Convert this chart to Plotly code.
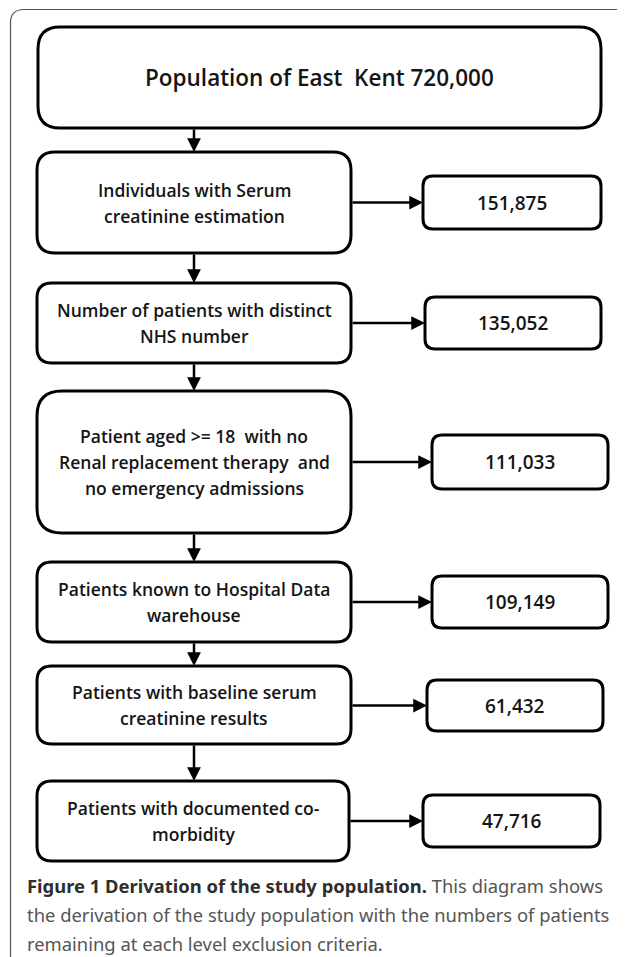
import plotly.graph_objects as go

# flowchart content
top_label = "Population of East\u00a0 Kent 720,000"
step_labels = [
    ["Individuals with Serum", "creatinine estimation"],
    ["Number of patients with distinct", "NHS number"],
    ["Patient aged &gt;= 18\u00a0 with no", "Renal replacement therapy\u00a0 and", "no emergency admissions"],
    ["Patients known to Hospital Data", "warehouse"],
    ["Patients with baseline serum", "creatinine results"],
    ["Patients with documented co-", "morbidity"],
]
step_counts = ["151,875", "135,052", "111,033", "109,149", "61,432", "47,716"]

caption_bold = "Figure 1 Derivation of the study population."
caption_lines = [
    " This diagram shows",
    "the derivation of the study population with the numbers of patients",
    "remaining at each level exclusion criteria.",
]

# layout (pixels of the 625x957 picture, y downwards)
W, H = 625, 957
PAD = 8  # page body margin around the plot div
top_box = (38, 601, 27, 128, 22)
left_boxes = [
    (37, 351, 152, 253, 18),
    (37, 351, 283, 363, 15),
    (37, 351, 391, 533, 25),
    (37, 351, 562, 642, 15),
    (37, 351, 666, 744, 15),
    (37, 349, 781, 861, 15),
]
right_boxes = [
    (423, 601, 176, 229, 10),
    (425, 601, 297, 349, 10),
    (432, 608, 435, 489, 10),
    (432, 608, 576, 628, 10),
    (427, 603, 680, 731, 10),
    (423, 600, 795, 847, 10),
]
arrow_x = 194
line_gap = 26
box_font = dict(family="Open Sans", size=17.5, color="#151515", weight=600)


def rounded(x0, x1, y0, y1, r):
    return (f"M {x0+r},{y0} L {x1-r},{y0} Q {x1},{y0} {x1},{y0+r} "
            f"L {x1},{y1-r} Q {x1},{y1} {x1-r},{y1} L {x0+r},{y1} "
            f"Q {x0},{y1} {x0},{y1-r} L {x0},{y0+r} Q {x0},{y0} {x0+r},{y0} Z")


shapes = []
annotations = []

# outer frame (continues past the right and bottom edges)
shapes.append(dict(type="path", xref="x", yref="y",
                   path="M 640,9.5 L 24,9.5 Q 10.5,9.5 10.5,23 L 10.5,980",
                   line=dict(color="#555555", width=1.2)))

for b in [top_box] + left_boxes + right_boxes:
    shapes.append(dict(type="path", xref="x", yref="y", path=rounded(*b),
                       line=dict(color="black", width=3), fillcolor="white"))

annotations.append(dict(x=(top_box[0] + top_box[1]) / 2, y=(top_box[2] + top_box[3]) / 2,
                        text=top_label, showarrow=False, xref="x", yref="y",
                        font=dict(family="Open Sans", size=22.5, color="#151515", weight=600)))

# vertical arrows between the main boxes
chain = [top_box] + left_boxes
for a, b in zip(chain[:-1], chain[1:]):
    annotations.append(dict(x=arrow_x, y=b[2], ax=arrow_x, ay=a[3], xref="x", yref="y",
                            axref="x", ayref="y", text="", showarrow=True,
                            arrowhead=2, arrowsize=1.1, arrowwidth=2.5, arrowcolor="black"))

for lb, rb, lines, cnt in zip(left_boxes, right_boxes, step_labels, step_counts):
    cx = (lb[0] + lb[1]) / 2
    cy = (lb[2] + lb[3]) / 2
    for i, ln in enumerate(lines):
        annotations.append(dict(x=cx, y=cy + (i - (len(lines) - 1) / 2) * line_gap,
                                text=ln, showarrow=False, xref="x", yref="y", font=box_font))
    ry = (rb[2] + rb[3]) / 2
    annotations.append(dict(x=(rb[0] + rb[1]) / 2, y=ry, text=cnt, showarrow=False,
                            xref="x", yref="y",
                            font=dict(family="Open Sans", size=19, color="#151515", weight=600)))
    annotations.append(dict(x=rb[0], y=ry, ax=lb[1], ay=ry, xref="x", yref="y",
                            axref="x", ayref="y", text="", showarrow=True,
                            arrowhead=2, arrowsize=1.1, arrowwidth=2.5, arrowcolor="black"))

# caption
cap_y = [885, 914, 943]
cap_font = dict(family="Noto Sans", size=18.4, color="#555555")
annotations.append(dict(x=25, y=cap_y[0], xanchor="left", showarrow=False, xref="x", yref="y",
                        text=f"<b><span style='color:#2e2e2e'>{caption_bold}</span></b>{caption_lines[0]}",
                        font=cap_font))
for yy, ln in zip(cap_y[1:], caption_lines[1:]):
    annotations.append(dict(x=25, y=yy, xanchor="left", showarrow=False, xref="x", yref="y",
                            text=ln, font=cap_font))

fig = go.Figure()
fig.update_layout(
    width=W - PAD, height=H - PAD, margin=dict(l=0, r=0, t=0, b=0),
    paper_bgcolor="white", plot_bgcolor="white",
    xaxis=dict(range=[PAD, W], visible=False, fixedrange=True),
    yaxis=dict(range=[H, PAD], visible=False, fixedrange=True),
    shapes=shapes, annotations=annotations, showlegend=False,
)
fig.write_html("out.html")
